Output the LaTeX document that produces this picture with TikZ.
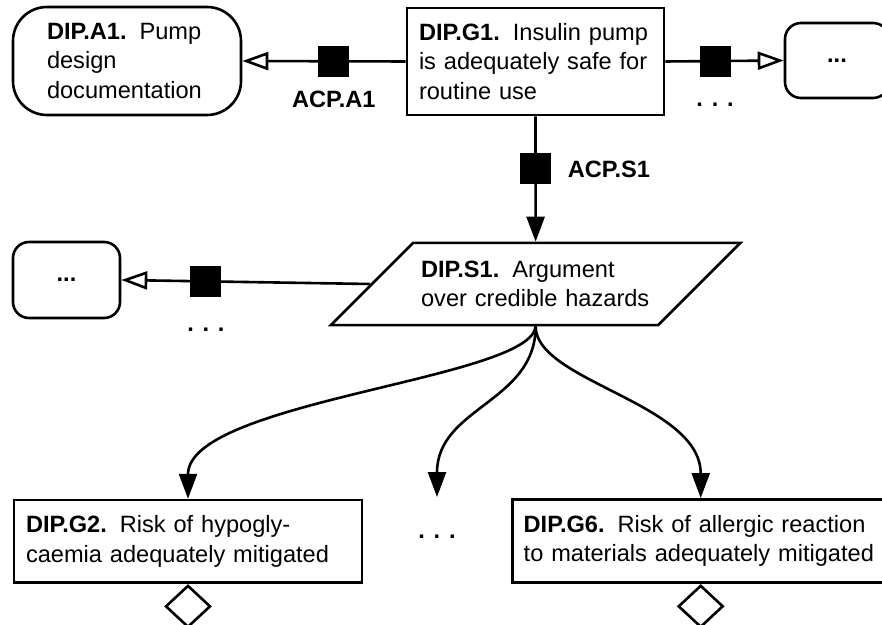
\documentclass[tikz,border=0pt]{standalone}
\usepackage{fontspec}
\setmainfont{Liberation Sans}
\usepackage{tikz}
\usetikzlibrary{arrows.meta}
\usetikzlibrary{positioning}
\usetikzlibrary{shapes.geometric}
\newcommand{\gsnfont}{\fontsize{11.8pt}{14.7pt}\selectfont}
\newcommand{\gsnid}[1]{\textbf{#1}\hspace{0.55em}}
\tikzset{goal/.style={draw, rectangle, line width=1.3pt, align=left, inner xsep=6pt}}
\tikzset{context/.style={draw, rectangle, rounded corners=#1, line width=1.3pt, align=left}}
\tikzset{strategy/.style={draw, trapezium, trapezium left angle=45, trapezium right angle=135,
    line width=1.3pt, align=left, inner xsep=4pt, inner ysep=9pt}}
\tikzset{undev/.style={draw, diamond, line width=1.3pt, minimum width=22.5pt, minimum height=21pt, inner sep=0pt}}
\tikzset{acp/.style={fill=black, rectangle, minimum size=15.5pt, inner sep=0pt}}
\tikzset{acplabel/.style={font=\gsnfont\bfseries, inner sep=0pt}}
\tikzset{dots/.style={font=\gsnfont\bfseries, inner sep=0pt}}
\tikzset{supp/.style={line width=1.3pt, -{Triangle[length=12.5pt, width=9pt]}}}
\tikzset{incx/.style={line width=1.3pt, -{Triangle[open, length=13pt, width=9pt]}}}
\begin{document}
\begin{tikzpicture}[x=0.5pt, y=-0.5pt, font=\gsnfont]
  \useasboundingbox (0,0) rectangle (882,625);
  \clip (0,0) rectangle (882,625);
  \node[goal, text width=116.5pt, minimum height=53.5pt] (g1) at (535.5,61.5)
    {\gsnid{DIP.G1.}Insulin pump\\is adequately safe for\\routine use};
  \node[context=17pt, text width=80pt, minimum width=114pt, minimum height=54pt] (a1) at (127,61)
    {\gsnid{DIP.A1.}Pump\\design\\documentation};
  \node[context=8pt, minimum width=52pt, minimum height=37.5pt] (cxr) at (837,60.5) {\textbf{...}};
  \node[context=8pt, minimum width=53.5pt, minimum height=38pt] (cxl) at (66.5,280) {\textbf{...}};
  \node[strategy, text width=114.5pt] (s1) at (535.6,284)
    {\gsnid{DIP.S1.}Argument\\over credible hazards};
  \node[goal, text width=162pt, minimum height=41.35pt] (g2) at (188,541.4)
    {\gsnid{DIP.G2.}Risk of hypogly-\\caemia adequately mitigated};
  \node[goal, text width=177pt, inner xsep=5.5pt, minimum height=41.7pt] (g6) at (700.7,541)
    {\gsnid{DIP.G6.}Risk of allergic reaction\\to materials adequately mitigated};
  \node[undev, below=0pt of g2] (g2u) {};
  \node[undev, below=0pt of g6] (g6u) {};
  \coordinate (gx) at (437,497);
  \node[dots, below=19pt of gx] (gxd) {. . .};

  \draw[incx] (g1.west) -- node[acp, pos=0.44] (acpa1) {} (a1.east);
  \draw[incx] (g1.east) -- node[acp, pos=0.42] (acpr) {} (cxr.west);
  \draw[supp] (g1.south) -- node[acp, pos=0.42] (acps1) {} (s1.north);
  \draw[incx] (s1.left side) -- node[acp, pos=0.66] (acpl) {} (cxl.east);
  \draw[supp] (s1.south) .. controls +(-4,53) and +(0,-98) .. (g2.north);
  \draw[supp] (s1.south) .. controls +(0,76) and +(0,-90) .. (gx);
  \draw[supp] (s1.south) .. controls +(0,55) and +(0,-95) .. (g6.north);
  \node[acplabel, below=6.5pt of acpa1] (la1) {ACP.A1};
  \node[acplabel, right=7.5pt of acps1] (ls1) {ACP.S1};
  \node[dots, below=12.25pt of acpr] (dr) {. . .};
  \node[dots, below=14.9pt of acpl] (dl) {. . .};
\end{tikzpicture}
\end{document}
